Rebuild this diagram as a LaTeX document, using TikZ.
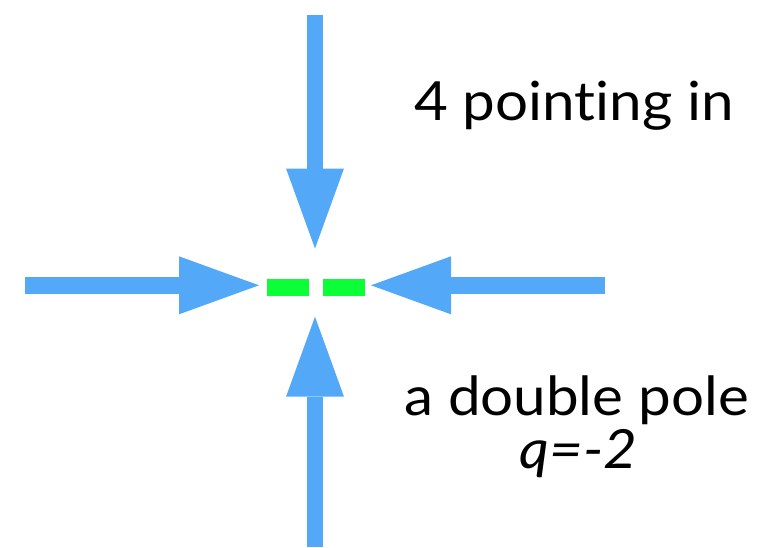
\documentclass[tikz,border=0pt]{standalone}
\usepackage{fontspec}
\setmainfont{Lato}[FakeStretch=1.08,Ligatures={NoCommon,NoRare}]
\usetikzlibrary{arrows.meta}
\definecolor{arrowblue}{RGB}{84,168,248}
\definecolor{polegreen}{RGB}{12,255,54}
\begin{document}
\begin{tikzpicture}[x=1pt,y=-1pt,
  inarrow/.style={draw=arrowblue, line width=16.6pt,
    -{Triangle[length=80pt,width=58pt,line width=0pt,fill=arrowblue]}},
  txt/.style={font=\fontsize{54}{64}\selectfont, anchor=base, inner sep=0pt},
  polebar/.style={fill=polegreen, draw=none, minimum width=42pt, minimum height=17.5pt, inner sep=0pt}]
\useasboundingbox (0,0) rectangle (764,547);
% pole bars
\node[polebar] (p1) at (287.7,287.3) {};
\node[polebar] (p2) at (343.5,287.3) {};
% arrow ends
\coordinate (ts) at (315,15);
\coordinate (tt) at (315,248.5);
\coordinate (bs) at (315,547);
\coordinate (bt) at (315,316.7);
\coordinate (ls) at (25,285.3);
\coordinate (lt) at (259,285.3);
\coordinate (rs) at (605,285.3);
\coordinate (rt) at (371,285.3);
\draw[inarrow] (ts) -- (tt);
\draw[inarrow] (bs) -- (bt);
\draw[inarrow] (ls) -- (lt);
\draw[inarrow] (rs) -- (rt);
% labels
\node[txt] (l1) at (574,120) {4 pointing in};
\node[txt] (l2) at (576.5,415) {a double pole};
\node[txt] (l3) at (578.5,468) {\itshape q=-2};
\end{tikzpicture}
\end{document}
